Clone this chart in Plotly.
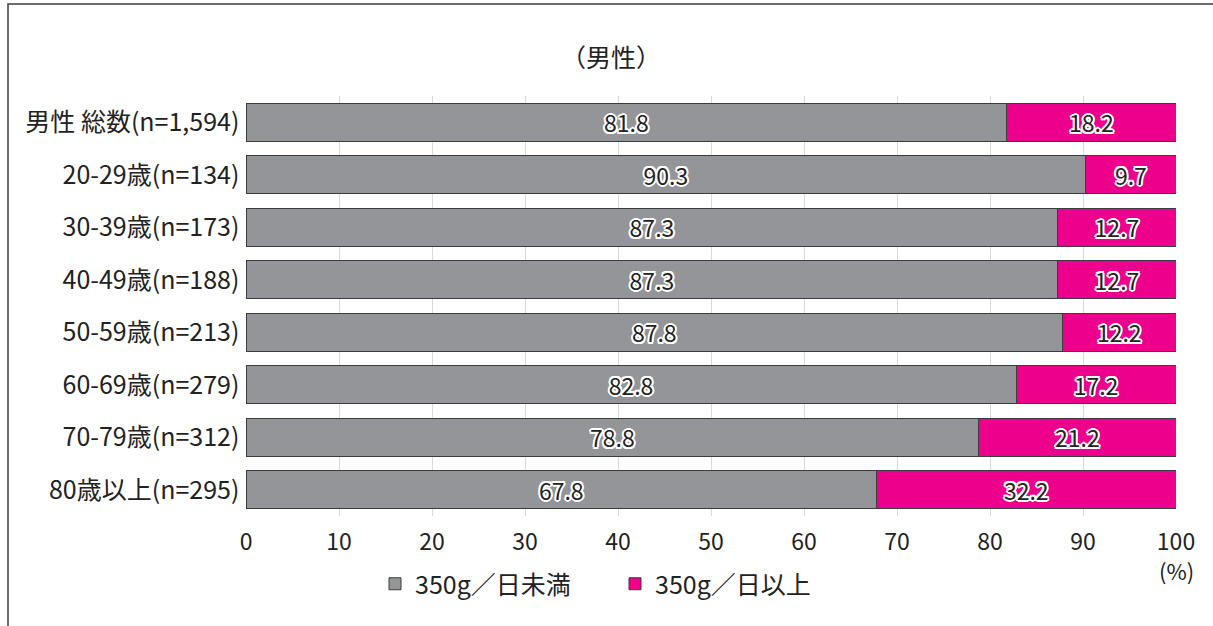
import plotly.graph_objects as go

categories = ["男性 総数(n=1,594)", "20-29歳(n=134)", "30-39歳(n=173)", "40-49歳(n=188)",
              "50-59歳(n=213)", "60-69歳(n=279)", "70-79歳(n=312)", "80歳以上(n=295)"]
below_350 = [81.8, 90.3, 87.3, 87.3, 87.8, 82.8, 78.8, 67.8]
above_350 = [18.2, 9.7, 12.7, 12.7, 12.2, 17.2, 21.2, 32.2]
series_names = ["350g／日未満", "350g／日以上"]
x_ticks = [0, 10, 20, 30, 40, 50, 60, 70, 80, 90, 100]

FONT = "Noto Sans CJK JP"
W, H = 1213, 626
L, R, T, B = 246, 37, 96, 110
pw, ph = W - L - R, H - T - B

def px_x(p):
    return (p - L) / pw

def px_y(p):
    return (H - B - p) / ph

halo = ",".join(f"{dx}px {dy}px 0 #ffffff" for dx, dy in
                [(-1.5, -1.5), (1.5, -1.5), (-1.5, 1.5), (1.5, 1.5), (0, 2), (0, -2), (2, 0), (-2, 0)])

fig = go.Figure()
for name, vals, col in [(series_names[0], below_350, "#939598"), (series_names[1], above_350, "#EC008C")]:
    fig.add_trace(go.Bar(
        y=categories, x=vals, name=name, orientation="h",
        marker=dict(color=col, line=dict(color="#3c3c3c", width=1)),
        text=[f"{v:.1f}" for v in vals], textposition="inside", insidetextanchor="middle",
        constraintext="none", textangle=0,
        textfont=dict(family=FONT, size=23, color="#222222", shadow=halo),
        hoverinfo="skip",
    ))

fig.update_layout(
    barmode="stack", bargap=0.276,
    width=W, height=H,
    margin=dict(l=L, r=R, t=T, b=B),
    paper_bgcolor="white", plot_bgcolor="white",
    font=dict(family=FONT, size=25, color="#222222"),
    showlegend=True,
    legend=dict(orientation="h", x=px_x(375), y=px_y(561), xanchor="left", yanchor="top",
                font=dict(family=FONT, size=25, color="#222222"), traceorder="normal",
                itemwidth=30, entrywidthmode="pixels", entrywidth=195),
    xaxis=dict(range=[0, 100], tickvals=x_ticks, showgrid=True, gridcolor="#d9d9d9", gridwidth=1,
               zeroline=False, showline=False, ticks="", tickfont=dict(size=23, color="#222222"),
               ticklabelstandoff=10, fixedrange=True),
    yaxis=dict(autorange="reversed", showgrid=False, showline=False, ticks="",
               tickfont=dict(size=25, color="#222222"), ticksuffix=" "),
    annotations=[
        dict(text="（男性）", xref="paper", yref="paper", x=px_x(611), y=px_y(56),
             showarrow=False, font=dict(size=25, color="#222222"), xanchor="center", yanchor="middle"),
        dict(text="(%)", xref="paper", yref="paper", x=px_x(1176), y=px_y(570),
             showarrow=False, font=dict(size=22, color="#222222"), xanchor="center", yanchor="middle"),
    ],
    shapes=[
        dict(type="rect", xref="paper", yref="paper", x0=px_x(8), x1=px_x(1230), y0=px_y(640), y1=px_y(4),
             line=dict(color="#3c3c3c", width=1.5), fillcolor="rgba(0,0,0,0)", layer="below"),
    ],
)

fig.write_html("out.html", config={"displayModeBar": False},
               post_script="document.body.style.margin='0';")
